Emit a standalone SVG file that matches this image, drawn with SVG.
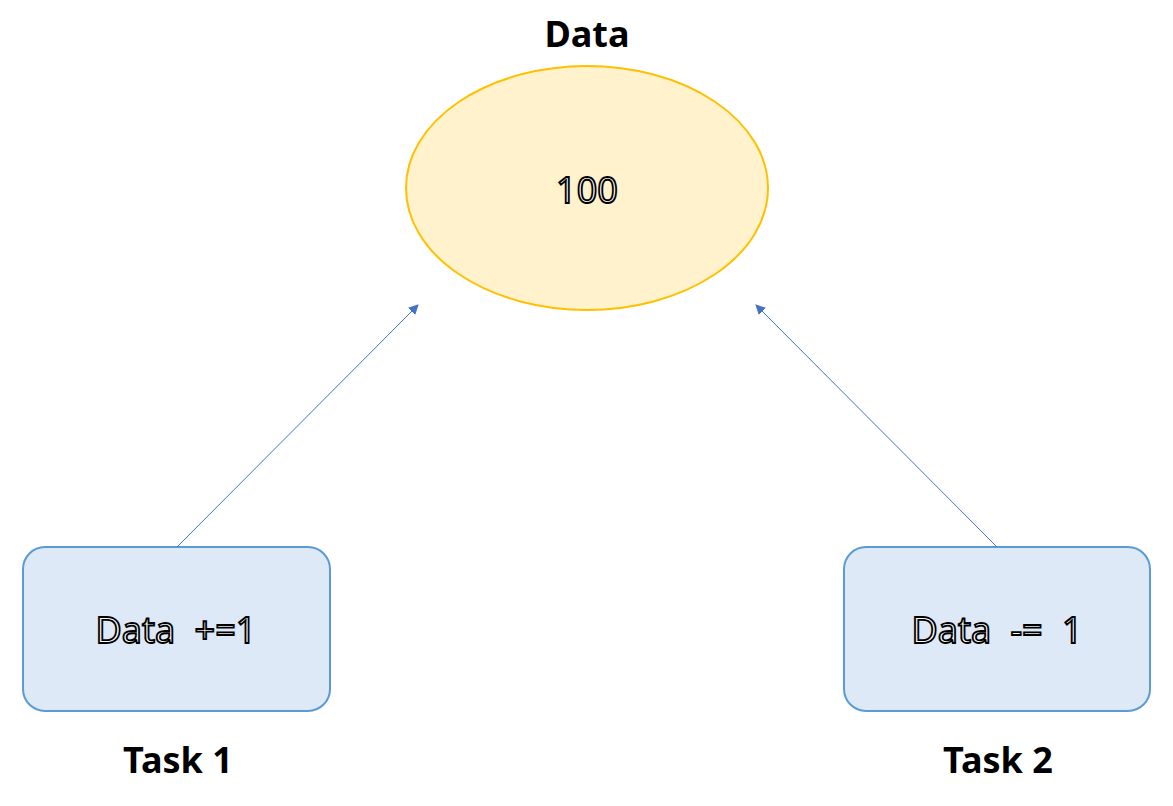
<svg xmlns="http://www.w3.org/2000/svg" width="1173" height="806" viewBox="0 0 1173 806">
<defs>
<style>
.lbl{font-family:"Noto Sans","DejaVu Sans",sans-serif;font-weight:bold;font-size:36px;fill:#000;text-anchor:middle}
.in{font-family:"Noto Sans","DejaVu Sans",sans-serif;font-size:36px;fill:#fff;stroke:#000;stroke-width:1.8;text-anchor:middle;word-spacing:10px}
.box{fill:#dde9f6;stroke:#5b9bd5;stroke-width:2}
.conn{stroke:#4472c4;stroke-width:1;fill:none}
</style>
<marker id="ah" viewBox="0 0 10 10" refX="9" refY="5" markerWidth="10" markerHeight="10" markerUnits="userSpaceOnUse" orient="auto">
<path d="M0,0 L10,5 L0,10 z" fill="#4472c4"/>
</marker>
</defs>
<rect width="1173" height="806" fill="#fff"/>
<g id="data">
<ellipse cx="587" cy="188" rx="181" ry="122" fill="#fff2cc" stroke="#ffc000" stroke-width="2"/>
<text class="in" x="587" y="203">100</text>
<text class="lbl" x="587" y="47">Data</text>
</g>
<g id="task1">
<rect class="box" x="23" y="547" width="307" height="164" rx="22"/>
<text class="in" x="176" y="643">Data +=1</text>
<text class="lbl" x="178" y="773">Task 1</text>
</g>
<g id="task2">
<rect class="box" x="844" y="547" width="306" height="164" rx="22"/>
<text class="in" x="997" y="643">Data -= 1</text>
<text class="lbl" x="998" y="773">Task 2</text>
</g>
<g id="connectors">
<line class="conn" x1="177" y1="547" x2="418" y2="305" marker-end="url(#ah)"/>
<line class="conn" x1="997" y1="547" x2="756" y2="305" marker-end="url(#ah)"/>
</g>
</svg>
